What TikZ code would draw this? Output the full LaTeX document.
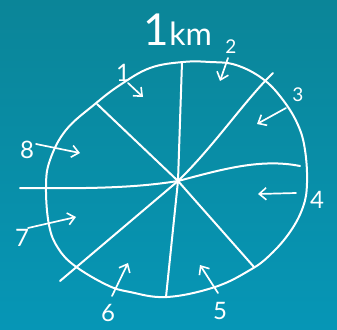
\documentclass[tikz,border=0pt]{standalone}
\usepackage{fontspec}
\setmainfont{Lato}
\usetikzlibrary{arrows.meta}
\definecolor{bgtop}{HTML}{0B8598}
\definecolor{bgbot}{HTML}{0696B6}
\begin{document}
\begin{tikzpicture}[x=1pt,y=-1pt,
  chalk/.style={draw=white,line width=2pt,line cap=round,line join=round},
  arr/.style={chalk,line width=1.7pt,-{Straight Barb[length=7pt,width=12pt,line width=1.6pt]}},
  num/.style={text=white,font=\fontsize{24}{24}\selectfont,inner sep=0pt},
  small/.style={num,font=\fontsize{19}{19}\selectfont}]
\shade[top color=bgtop,bottom color=bgbot] (0,0) rectangle (337,329);
\useasboundingbox (0,0) rectangle (337,329);
% rim
\draw[chalk] plot[smooth cycle,tension=0.65] coordinates {
  (183,62) (210,62) (236,65) (263,79) (283,100) (298,125) (305,150)
  (307,183) (303,207) (290,232) (270,255) (250,270) (215,287)
  (167,297) (130,292) (107,285) (75,266) (58,248) (49,225)
  (46,187) (50,160) (66,130) (95,104) (120,85) (150,68)};
% centre and spoke ends
\coordinate (c) at (178,181);
\coordinate (rN) at (182,62);
\coordinate (rS) at (166,297);
\coordinate (rNW) at (97,104);
\coordinate (rSW) at (60,281);
\coordinate (rSE) at (254,267);
\coordinate (rNE) at (273,73);
\coordinate (rW) at (20,188);
\coordinate (rE) at (300,166);
\draw[chalk] (c) -- (rN);
\draw[chalk] (c) -- (rS);
\draw[chalk] (c) -- (rNW);
\draw[chalk] (c) -- (rSW);
\draw[chalk] (c) -- (rSE);
\draw[chalk] (c) .. controls (215,145) and (245,100) .. (rNE);
\draw[chalk] (rW) .. controls (100,189) and (140,187) .. (c);
\draw[chalk] (c) .. controls (220,170) and (260,158) .. (rE);
% title
\node[text=white,inner sep=0pt] (title) at (178,30)
  {\fontsize{44}{44}\selectfont 1\fontsize{32}{32}\selectfont km};
% labels
\node[num] (n1) at (123,73) {1};
\node[small] (n2) at (231,47) {2};
\node[small] (n3) at (298,95) {3};
\node[num] (n4) at (317,200) {4};
\node[num] (n5) at (220,311) {5};
\node[num] (n6) at (108,313) {6};
\node[num] (n7) at (22,238) {7};
\node[num] (n8) at (27,150) {8};
% arrows
\coordinate (a1s) at (128,83);  \coordinate (a1e) at (143,97);
\coordinate (a2s) at (228,58);  \coordinate (a2e) at (220,81);
\coordinate (a3s) at (286,108); \coordinate (a3e) at (257,124);
\coordinate (a4s) at (296,193); \coordinate (a4e) at (258,194);
\coordinate (a5s) at (218,293); \coordinate (a5e) at (200,265);
\coordinate (a6s) at (112,296); \coordinate (a6e) at (128,263);
\coordinate (a7s) at (28,228);  \coordinate (a7e) at (76,217);
\coordinate (a8s) at (36,144);  \coordinate (a8e) at (80,153);
\draw[arr] (a1s) -- (a1e);
\draw[arr] (a2s) -- (a2e);
\draw[arr] (a3s) -- (a3e);
\draw[arr] (a4s) -- (a4e);
\draw[arr] (a5s) -- (a5e);
\draw[arr] (a6s) -- (a6e);
\draw[arr] (a7s) -- (a7e);
\draw[arr] (a8s) -- (a8e);
\end{tikzpicture}
\end{document}
